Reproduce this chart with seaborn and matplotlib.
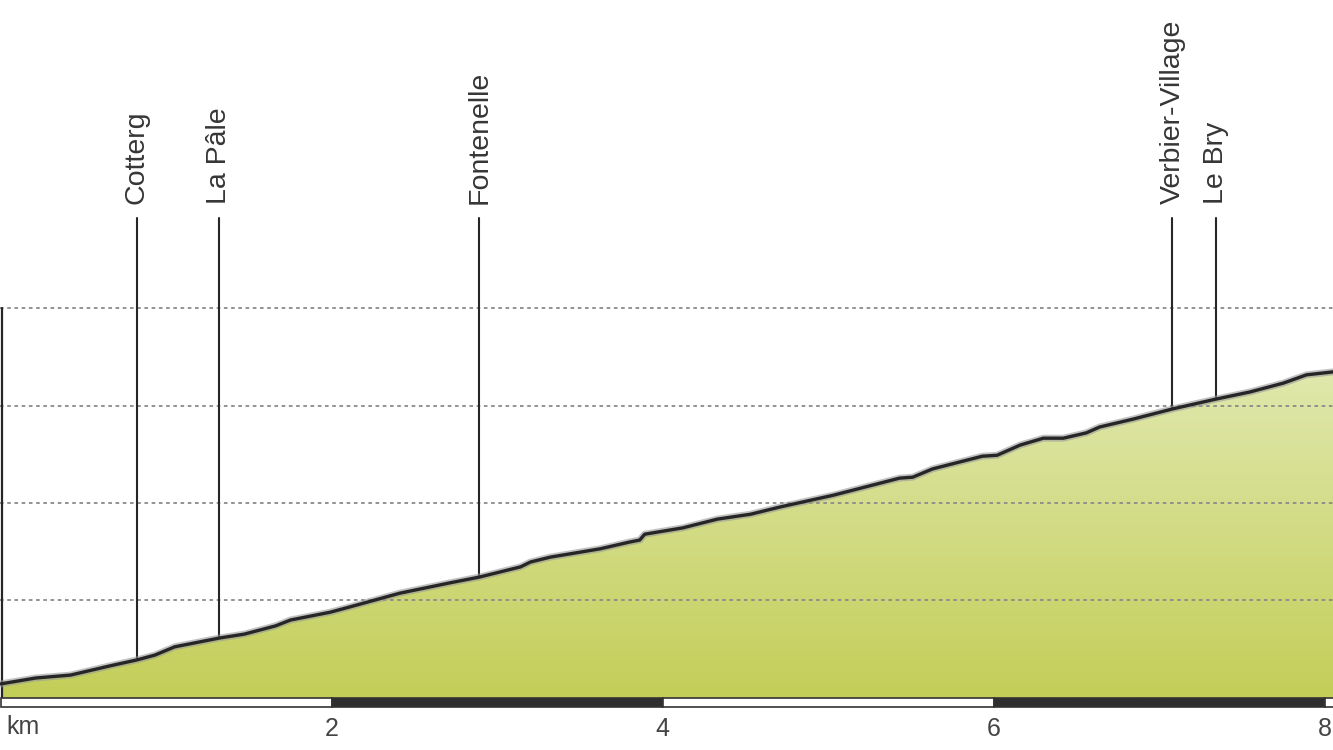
import numpy as np
import matplotlib
matplotlib.use("Agg")
import matplotlib.pyplot as plt
from matplotlib.colors import LinearSegmentedColormap
from matplotlib.patches import Polygon, Rectangle
import seaborn as sns
import pandas as pd

# profile: distance (km) and elevation (m)
dist_km = [0.00, 0.21, 0.42, 0.66, 0.82, 0.93, 1.05, 1.32, 1.47, 1.66, 1.75,
           1.99, 2.11, 2.41, 2.71, 2.89, 3.14, 3.20, 3.32, 3.62, 3.80, 3.86,
           3.89, 4.12, 4.33, 4.53, 4.71, 5.03, 5.43, 5.51, 5.63, 5.93, 6.02,
           6.16, 6.30, 6.42, 6.56, 6.64, 6.84, 7.08, 7.34, 7.55, 7.75, 7.89,
           8.05]
elev_m = [829, 841, 847, 866, 878, 888, 905, 923, 931, 948, 960,
          976, 987, 1015, 1036, 1048, 1069, 1079, 1089, 1106, 1120, 1124,
          1136, 1149, 1167, 1177, 1192, 1216, 1251, 1253, 1270, 1296, 1298,
          1319, 1333, 1333, 1344, 1356, 1372, 1393, 1413, 1428, 1446, 1463,
          1469]

places = ["Cotterg", "La Pâle", "Fontenelle", "Verbier-Village", "Le Bry"]
place_km = [0.82, 1.32, 2.89, 7.08, 7.34]

grid_levels = [1000, 1200, 1400, 1600]
tick_km = [2, 4, 6, 8]
tick_labels = ["2", "4", "6", "8"]

base = 800
x_min, x_max = -0.006, 8.05
y_min, y_max = 781.5, 2232
dark = "#262626"

sns.set_style("white")
plt.rcParams["font.family"] = ["Liberation Sans", "DejaVu Sans"]

df = pd.DataFrame({"km": dist_km, "elev": elev_m})

fig = plt.figure(figsize=(13.33, 7.5), dpi=100)
ax = fig.add_axes([0, 43 / 750, 1, 707 / 750])
ax.set_xlim(x_min, x_max)
ax.set_ylim(y_min, y_max)
for s in ax.spines.values():
    s.set_visible(False)

# gradient fill clipped to the profile
verts = list(zip(dist_km, elev_m)) + [(dist_km[-1], base), (dist_km[0], base)]
poly = Polygon(verts, closed=True, facecolor="none", edgecolor="none")
ax.add_patch(poly)
cmap = LinearSegmentedColormap.from_list("grn", ["#c3ce58", "#e0e8ad"])
grad = np.linspace(0, 1, 256).reshape(-1, 1)
img = ax.imshow(grad, extent=[x_min, x_max, base, max(elev_m)], origin="lower",
                aspect="auto", cmap=cmap, zorder=1)
img.set_clip_path(poly)

# dotted grid lines over the fill
ax.hlines(grid_levels, x_min, x_max, colors="#8a8a8a", linewidth=1.3,
          linestyles=(0, (2, 2)), zorder=2)

# left axis line
ax.plot([0.006, 0.006], [base, grid_levels[-1]], color=dark, lw=1.6, zorder=3)

# place markers
for name, k in zip(places, place_km):
    top = 1785
    ax.plot([k, k], [np.interp(k, dist_km, elev_m), top], color=dark,
            lw=1.5, zorder=3)
    ax.text(k, top + 28, name, rotation=90, ha="center", va="bottom",
            fontsize=20.5, color="#363636")

# profile line
sns.lineplot(data=df, x="km", y="elev", ax=ax, color="#9a9a9a", lw=5,
             alpha=0.6, zorder=4)
sns.lineplot(data=df, x="km", y="elev", ax=ax, color=dark, lw=2.4, zorder=5)

# km scale bar
for i in range(5):
    x0 = max(2 * i, 0)
    x1 = min(2 * i + 2, x_max + 0.1)
    ax.add_patch(Rectangle((x0, 782), x1 - x0, 17,
                           facecolor="white" if i % 2 == 0 else "#2e2e2e",
                           edgecolor="#333333", lw=1.2, zorder=6,
                           clip_on=False))

ax.set_xticks(tick_km)
ax.set_xticklabels(tick_labels)
ax.set_yticks([])
ax.tick_params(axis="x", length=0, pad=7, labelsize=18, labelcolor="#444444")
ax.text(0.03, 740, "km", ha="left", va="center", fontsize=18,
        color="#444444", clip_on=False)
ax.set_xlabel("")
ax.set_ylabel("")

fig.savefig("out.png", dpi=100)
